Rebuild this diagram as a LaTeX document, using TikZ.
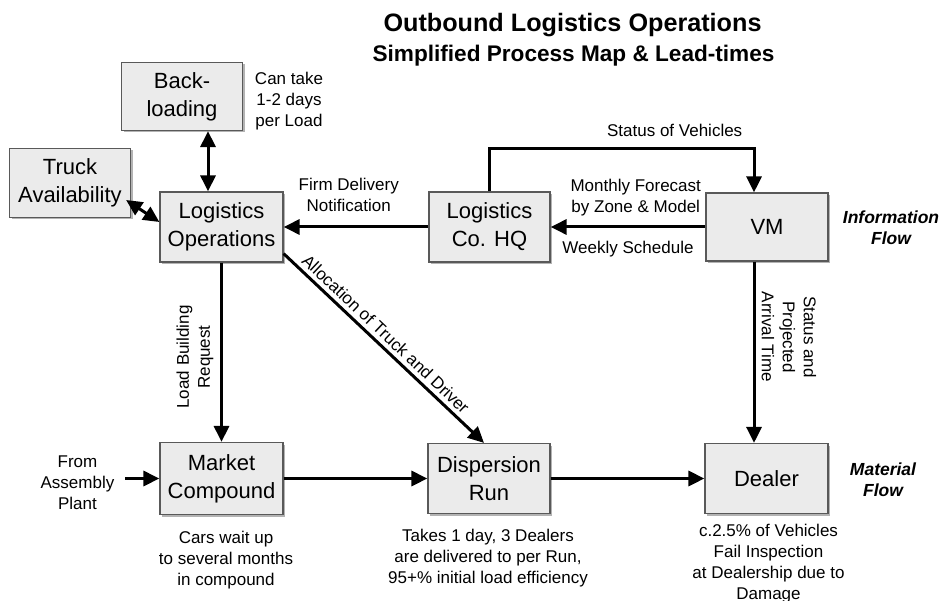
\documentclass[tikz,border=0pt]{standalone}
\usepackage{fontspec}
\setmainfont{Liberation Sans}
\usetikzlibrary{arrows.meta,shadows}
\begin{document}
\begin{tikzpicture}[x=1pt,y=-1pt,
 box/.style={draw=black!65, line width=1.2pt, fill=black!8, minimum width=122pt, minimum height=70pt, inner sep=0pt, align=center, font=\fontsize{22}{28}\selectfont, drop shadow={shadow xshift=2pt, shadow yshift=-2pt, fill=black!50, opacity=0.6}},
 arr/.style={line width=3pt, -{Triangle[length=16pt,width=15pt]}},
 dbl/.style={line width=3pt, {Triangle[length=16pt,width=15pt]}-{Triangle[length=16pt,width=15pt]}},
 lbl/.style={font=\fontsize{17}{21}\selectfont, align=center, inner sep=0pt},
 flow/.style={font=\fontsize{17.5}{21}\selectfont\bfseries\itshape, align=center, inner sep=0pt},
]
\path[use as bounding box] (0,0) rectangle (941,601);

% title
\node[font=\fontsize{25.2}{28}\selectfont\bfseries, inner sep=0pt] (t1) at (572.5,25) {Outbound Logistics Operations};
\node[font=\fontsize{22.6}{26}\selectfont\bfseries, inner sep=0pt] (t2) at (573.5,56) {Simplified Process Map \& Lead-times};

% boxes
\node[box, minimum width=121pt, minimum height=68pt] (back) at (182,96.5) {Back-\\loading};
\node[box, minimum width=121pt, minimum height=69pt] (truck) at (70,183) {Truck\\Availability};
\node[box, minimum width=123pt] (logops) at (221.5,227) {Logistics\\Operations};
\node[box, minimum width=121pt] (hq) at (489.5,227) {Logistics\\Co. HQ};
\node[box, minimum width=122pt, minimum height=68pt] (vm) at (767,227) {VM};
\node[box, minimum width=123pt, minimum height=72pt] (market) at (221.5,478.5) {Market\\Compound};
\node[box, minimum width=122pt] (disp) at (489,478.5) {Dispersion\\Run};
\node[box, minimum width=123pt] (dealer) at (766.5,478.5) {Dealer};

% connectors
\draw[dbl] ([xshift=26pt]back.south) -- ([xshift=-13.5pt]logops.north);
\draw[dbl] ([xshift=-5pt,yshift=-17pt]truck.east) -- ([yshift=5pt]logops.west);
\draw[arr] (hq.west) -- node[lbl, pos=0.55, above=14pt] (fdn) {Firm Delivery\\Notification} (logops.east);
\draw[arr] (vm.west) -- node[lbl, pos=0.45, above=9pt] (mf) {Monthly Forecast\\by Zone \& Model}
                        node[lbl, pos=0.5, below=13pt] (ws) {Weekly Schedule} (hq.east);
\draw[arr] (hq.north) -- ++(0,-43) -| node[lbl, pos=0.35, above=10pt] (sv) {Status of Vehicles} ([xshift=-13pt]vm.north);
\draw[arr] ([xshift=-13pt]vm.south) -- ([xshift=-12.5pt]dealer.north);
\draw[arr] (logops.south) -- (market.north);
\draw[arr] ([yshift=9pt]logops.south east) -- node[lbl, pos=0.47, sloped, above=4pt] (atd) {Allocation of Truck and Driver} ([xshift=-5pt]disp.north);
\coordinate (src) at (125,478.5);
\draw[arr] (src) -- (market.west);
\draw[arr] (market.east) -- (disp.west);
\draw[arr] (disp.east) -- (dealer.west);

% rotated labels
\node[lbl, rotate=90] (lbr) at (195,357) {Load Building\\Request};
\node[lbl, rotate=-90] (spa) at (789,337) {Status and\\Projected\\Arrival Time};

% annotations
\node[lbl] (cantake) at (289,101) {Can take\\1-2 days\\per Load};
\node[lbl] (from) at (77.5,483) {From\\Assembly\\Plant};
\node[lbl] (cars) at (226,560) {Cars wait up\\to several months\\in compound};
\node[lbl] (takes) at (488,558) {Takes 1 day, 3 Dealers\\are delivered to per Run,\\95+\% initial load efficiency};
\node[lbl, anchor=north] (fail) at (768.5,524) {c.2.5\% of Vehicles\\Fail Inspection\hspace{10pt}\\at Dealership due to\\Damage};
\node[flow] (inf) at (891,228) {Information\\Flow};
\node[flow] (mat) at (883,480) {Material\\Flow};
\end{tikzpicture}
\end{document}
